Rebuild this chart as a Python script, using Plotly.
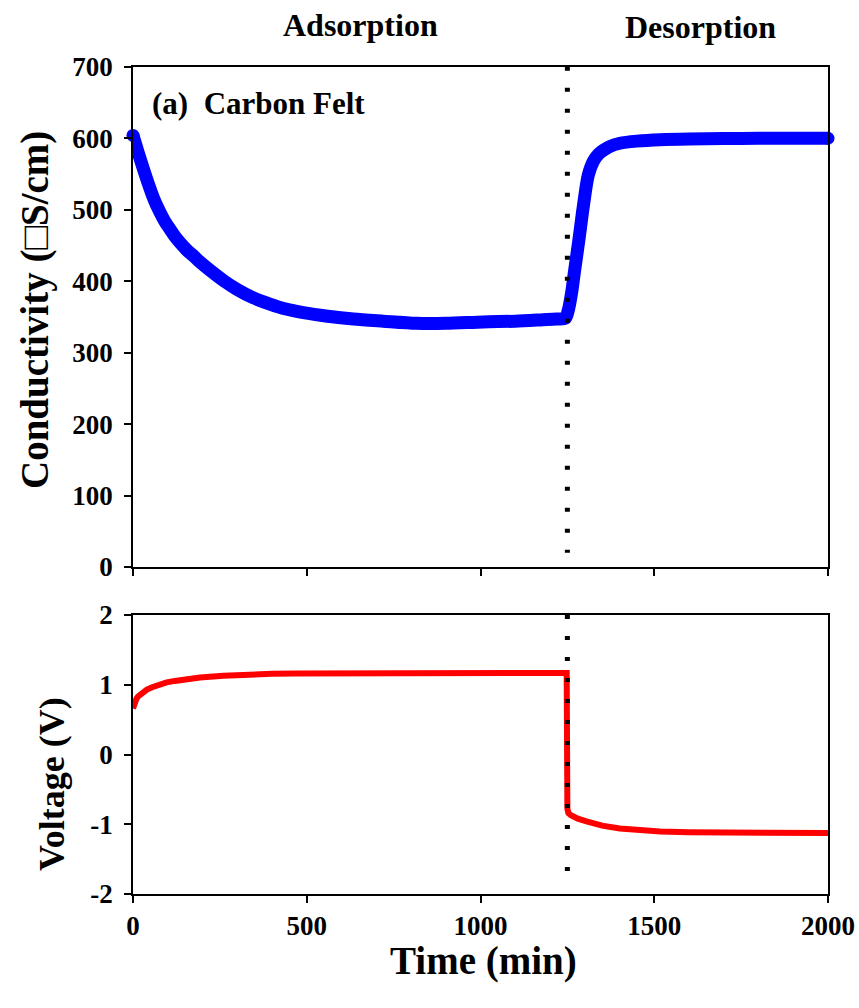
import plotly.graph_objects as go
from plotly.subplots import make_subplots

# Conductivity during adsorption / desorption (carbon felt)
cond_time = [0, 15, 30, 45, 60, 75, 90, 106, 120, 135, 154, 175, 190, 222, 260, 298, 345,
             394, 440, 490, 560, 634, 720, 816, 900, 1008, 1100, 1180, 1219, 1244, 1252,
             1262, 1270, 1283, 1296, 1310, 1325, 1340, 1353, 1370, 1401, 1450, 1517,
             1600, 1700, 1800, 1900, 2000]
cond_value = [604, 580, 557, 535, 515, 499, 485, 473, 463, 454, 444, 435, 428, 415, 401,
              389, 377, 368, 361, 356, 351, 347, 344, 341, 341, 343, 344, 346, 347, 348,
              358, 383, 412, 457, 505, 548, 568, 578, 583, 588, 593, 596, 598,
              599, 599.5, 600, 600, 600]

# Cell voltage over the same run
volt_time = [0, 2, 5, 10, 15, 20, 30, 40, 55, 75, 97, 120, 150, 193, 260, 337, 400, 471,
             700, 1000, 1248,
             1250, 1253, 1260, 1267, 1280, 1305, 1350, 1401, 1450, 1517, 1600, 1689,
             1800, 2000]
volt_value = [0.66, 0.70, 0.75, 0.80, 0.835, 0.86, 0.90, 0.93, 0.965, 1.00, 1.035, 1.055,
              1.08, 1.105, 1.13, 1.15, 1.157, 1.162, 1.165, 1.168, 1.168,
              -0.78, -0.84, -0.87, -0.89, -0.92, -0.96, -1.02, -1.06, -1.085, -1.105,
              -1.115, -1.12, -1.122, -1.125]

switch_time = 1250
x_ticks = [0, 500, 1000, 1500, 2000]
cond_ticks = [0, 100, 200, 300, 400, 500, 600, 700]
volt_ticks = [-2, -1, 0, 1, 2]
volt_tick_text = ["-2", "-1", "0", "1", "2"]

W, H = 859, 1008
FONT = "Liberation Serif"
tick_font = dict(family=FONT, size=27, color="black", weight="bold")


def px_x(p):
    return p / W


def px_y(p):
    return 1 - p / H


fig = make_subplots(rows=2, cols=1)

fig.add_trace(go.Scatter(
    x=cond_time, y=cond_value, mode="lines",
    line=dict(color="#0000ff", width=13, shape="spline", smoothing=0.8),
    showlegend=False), row=1, col=1)
# round end caps of the thick conductivity trace
fig.add_trace(go.Scatter(
    x=[cond_time[0], cond_time[-1]], y=[cond_value[0], cond_value[-1]], mode="markers",
    marker=dict(color="#0000ff", size=13, opacity=1, line=dict(width=0)),
    showlegend=False, cliponaxis=False), row=1, col=1)

fig.add_trace(go.Scatter(
    x=volt_time, y=volt_value, mode="lines",
    line=dict(color="#ff0000", width=6),
    showlegend=False), row=2, col=1)

axis_common = dict(
    showline=True, linecolor="black", linewidth=1.5, mirror=True,
    ticks="outside", ticklen=7, tickwidth=1.5, tickcolor="black",
    showgrid=False, zeroline=False, tickfont=tick_font, automargin=False,
)

fig.update_xaxes(range=[0, 2000], tickvals=x_ticks, showticklabels=False,
                 domain=[px_x(133), px_x(828)], **axis_common, row=1, col=1)
fig.update_xaxes(range=[0, 2000], tickvals=x_ticks, showticklabels=True,
                 domain=[px_x(133), px_x(828)], **axis_common, row=2, col=1)
fig.update_yaxes(range=[0, 700], tickvals=cond_ticks, ticklabelstandoff=6,
                 domain=[px_y(567), px_y(66.8)], **axis_common, row=1, col=1)
fig.update_yaxes(range=[-2, 2], tickvals=volt_ticks, ticktext=volt_tick_text,
                 ticklabelstandoff=6,
                 domain=[px_y(894), px_y(615)], **axis_common, row=2, col=1)

# Dotted marker for the switch from adsorption to desorption
dot_line = dict(color="black", width=5, dash="4px,17px")
fig.add_shape(type="line", xref="x", yref="y", x0=switch_time, x1=switch_time,
              y0=700, y1=20, line=dot_line)
fig.add_shape(type="line", xref="x2", yref="y2", x0=switch_time, x1=switch_time,
              y0=2.0, y1=-1.77, line=dot_line)


def font(size):
    return dict(family=FONT, size=size, color="black", weight="bold")


annotations = [
    dict(text="Conductivity (\u25a1S/cm)", x=px_x(35), y=px_y(310), textangle=-90,
         font=font(39)),
    dict(text="Voltage (V)", x=px_x(52), y=px_y(784), textangle=-90, font=font(36)),
    dict(text="Time (min)", x=px_x(483), y=px_y(961), font=font(39)),
    dict(text="Adsorption", x=px_x(360), y=px_y(25), font=font(32)),
    dict(text="Desorption", x=px_x(700), y=px_y(27), font=font(32)),
    dict(text="(a)  Carbon Felt", x=px_x(150), y=px_y(104), xanchor="left",
         font=font(31)),
]
for a in annotations:
    a.update(xref="paper", yref="paper", showarrow=False)
    a.setdefault("xanchor", "center")
    a.setdefault("yanchor", "middle")

fig.update_layout(
    width=W, height=H,
    margin=dict(l=0, r=0, t=0, b=0),
    paper_bgcolor="white", plot_bgcolor="white",
    annotations=annotations,
)

fig.write_html("out.html")
